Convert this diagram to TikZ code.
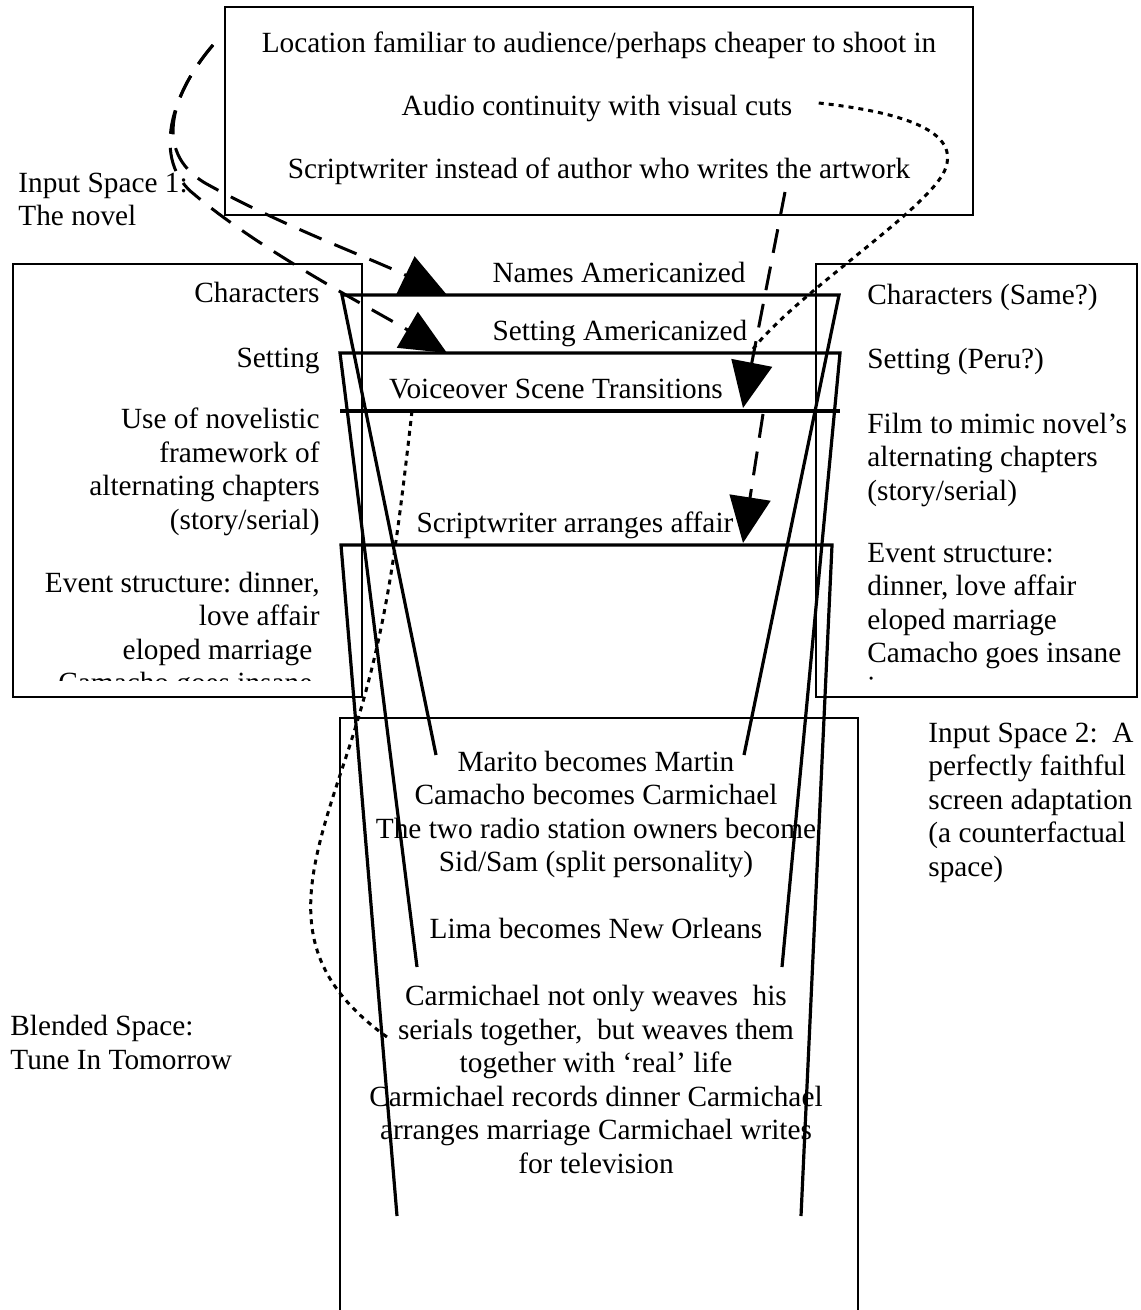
\documentclass[tikz,border=0pt]{standalone}
\usepackage{fontspec}
\setmainfont{Liberation Serif}
\usetikzlibrary{arrows.meta,calc}

\begin{document}
\begin{tikzpicture}[x=0.5pt, y=-0.5pt, every node/.style={inner sep=0pt, font=\fontsize{14.65}{16.75}\selectfont\frenchspacing}, frame/.style={draw=black, line width=0.65pt}, mapline/.style={draw=black, line width=1.6pt}, dasharrow/.style={draw=black, line width=1.5pt, dash pattern=on 12pt off 7pt, -{Triangle[length=23pt, width=20.5pt]}}, dotlink/.style={draw=black, line width=1.5pt, dash pattern=on 2.5pt off 2.5pt}]
			\useasboundingbox (0,0) rectangle (1140,1310);
			
			\draw[frame] (225,7) rectangle (973,215);
			\draw[frame] (13,264) rectangle (362,697);
			\draw[frame] (816,264) rectangle (1137,697);
			\draw[frame] (340,1320) -- (340,718) -- (858,718) -- (858,1320);
			
			\node[anchor=base] (location) at (599,53){Location familiar to audience/perhaps cheaper to shoot in};
			\node[anchor=base] (audio) at (597,116){Audio continuity with visual cuts};
			\node[anchor=base] (writer) at (599,179){Scriptwriter instead of author who writes the artwork};
			
			\node[anchor=base west, align=left] (novel) at (18,226){Input Space 1:\\The novel};
			\node[anchor=base west, align=left] (faithful) at (928,876){Input Space 2:\ \ A\\perfectly faithful\\screen adaptation\\(a counterfactual\\space)};
			\node[anchor=base west, align=left] (blended) at (10,1069){Blended Space:\\Tune In Tomorrow};
			
			\node[anchor=base east] (charL) at (320,303){Characters};
			\node[anchor=base east] (setL) at (320,367){Setting};
			\node[anchor=base east, align=right] (chapL) at (320,529){Use of novelistic\\framework of\\alternating chapters\\(story/serial)};
			\begin{scope}
				\clip (13,264) rectangle (362,680);
				\node[anchor=base east, align=right] (eventL) at (320,692.5){Event structure: dinner,\\love affair\\eloped marriage\hbox{\hspace{.25em}}\\Camacho goes insane\hbox{\hspace{.25em}}};
			\end{scope}
			
			\node[anchor=base west] (charR) at (867,305){Characters (Same?)};
			\node[anchor=base west] (setR) at (867,368){Setting (Peru?)};
			\node[anchor=base west, align=left] (chapR) at (867,500){Film to mimic novel’s\\alternating chapters\\(story/serial)};
			\begin{scope}
				\clip (816,264) rectangle (1137,680);
				\node[anchor=base west, align=left] (eventR) at (867,696){Event structure:\\dinner, love affair\\eloped marriage\\Camacho goes insane\\insane};
			\end{scope}
			
			\node[anchor=base] (names) at (619,283){Names Americanized};
			\node[anchor=base] (setting) at (620,341){Setting Americanized};
			\node[anchor=base] (voice) at (556,398){Voiceover Scene Transitions};
			\node[anchor=base] (affair) at (575,532){Scriptwriter arranges affair};
			
			\node[anchor=base, align=center] (blend) at (596,1173){Marito becomes Martin\\Camacho becomes Carmichael\\The two radio station owners become\\Sid/Sam (split personality)\\[16.75pt]Lima becomes New Orleans\\[16.75pt]Carmichael not only weaves\ \ his\\serials together,\ \ but weaves them\\together with ‘real’ life\\Carmichael records dinner Carmichael\\arranges marriage Carmichael writes\\for television};
			
			\coordinate (m1L) at (342,295);
			\coordinate (m1R) at (839,295);
			\coordinate (b1L) at (436,755);
			\coordinate (b1R) at (744,755);
			\coordinate (m2L) at (340,353);
			\coordinate (m2R) at (840,353);
			\coordinate (b2L) at (417,967);
			\coordinate (b2R) at (782,967);
			\coordinate (m3L) at (340,411);
			\coordinate (m3R) at (840,411);
			\coordinate (m4L) at (341,545);
			\coordinate (m4R) at (832,545);
			\coordinate (b4L) at (397,1216);
			\coordinate (b4R) at (801,1216);
			
			\draw[mapline] (b1L) -- (m1L) -- (m1R) -- (b1R);
			\draw[mapline] (b2L) -- (m2L) -- (m2R) -- (b2R);
			\draw[mapline] (m3L) -- (m3R);
			\draw[mapline] (b4L) -- (m4L) -- (m4R) -- (b4R);
			
			\coordinate (loc) at (213,45);
			\coordinate (tip1) at (447,295);
			\coordinate (tip2) at (447,353);
			\coordinate (wr) at (785,192);
			\coordinate (tip3) at (743,408);
			\coordinate (vt) at (763,414);
			\coordinate (tip4) at (743,543);
			\coordinate (hide) at (753,349);
			\coordinate (show) at (412,411);
			\coordinate (serials) at (387,1037);
			
			\draw[dasharrow] (loc) .. controls (175,90) and (150,150) .. (205,183) .. controls (280,225) and (370,258) .. (tip1);
			\draw[dasharrow] (loc) .. controls (172,92) and (150,160) .. (195,195) .. controls (260,250) and (370,308) .. (tip2);
			\draw[dasharrow] (wr) -- (tip3);
			\draw[dasharrow] (vt) -- (tip4);
			
			\draw[dotlink] ($(audio.east)+(26,-6)$) .. controls (900,112) and (958,130) .. (946,167) .. controls (935,205) and (800,290) .. (hide);
			\draw[dotlink] (show) .. controls (395,560) and (385,640) .. (345,760) .. controls (305,880) and (280,960) .. (serials);
			\end{tikzpicture}
\end{document}
